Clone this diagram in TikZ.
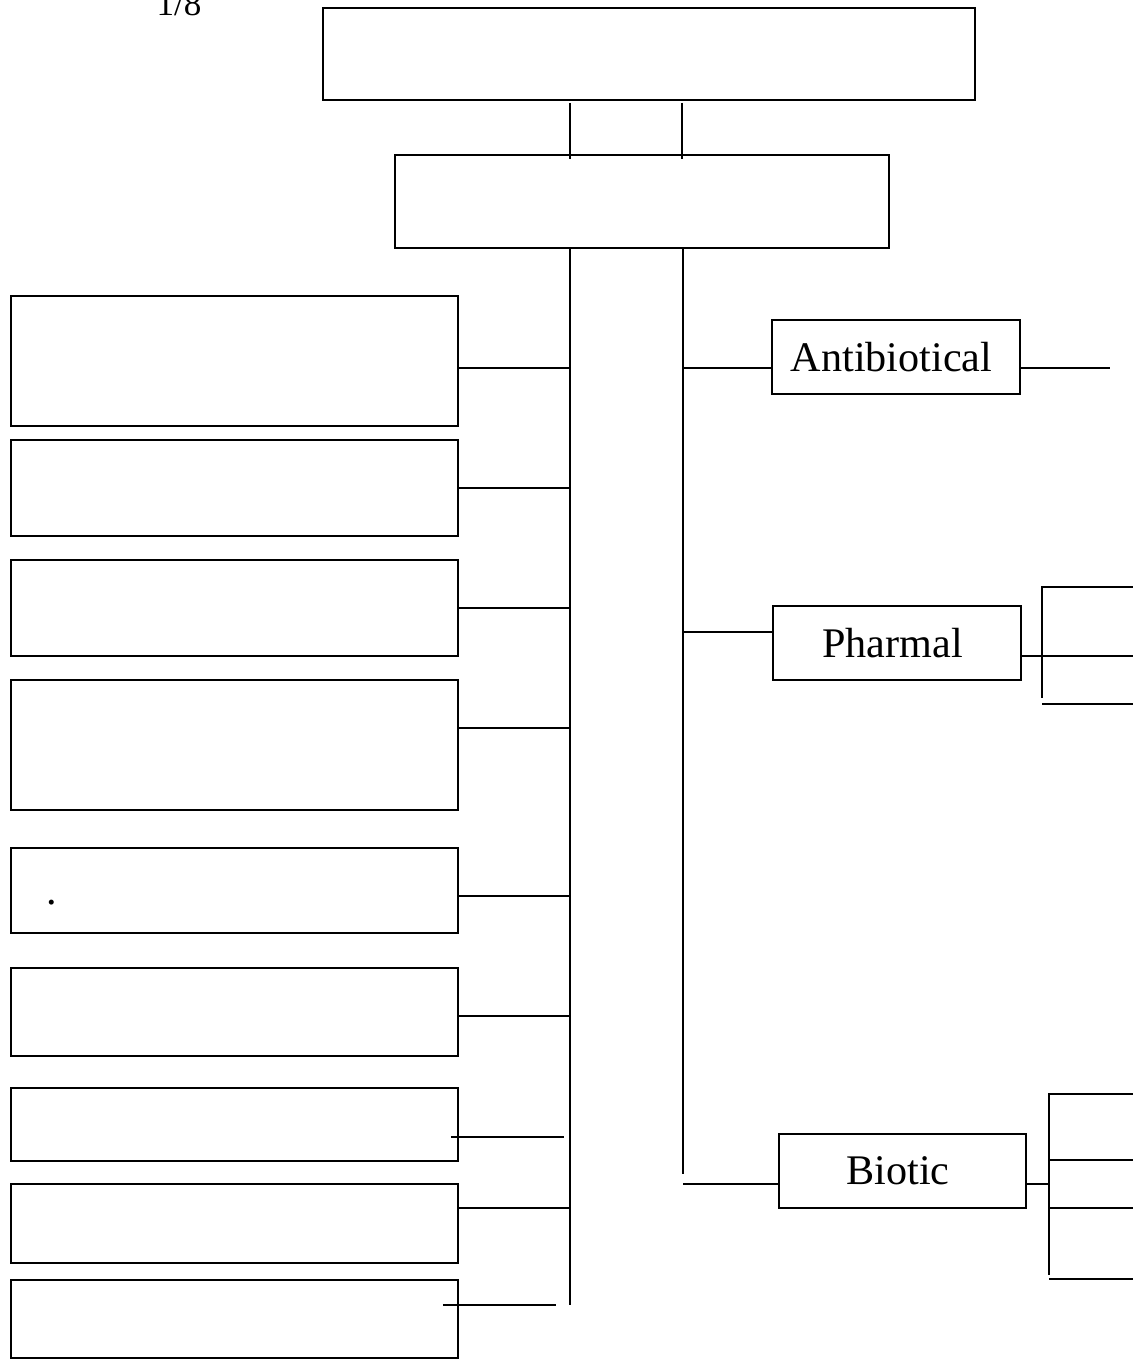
\documentclass[tikz,border=0pt]{standalone}
\usepackage{fontspec}
\setmainfont{Liberation Serif}
\usepackage{tikz}
\usetikzlibrary{calc}
\tikzset{
  box/.style={
    rectangle,
    draw=black,
    line width=1.1pt,
    inner sep=0pt,
    align=center,
    font=\fontsize{24}{28}\selectfont
  },
  leftbox/.style={box, minimum width=8.94cm},
  classbox/.style={box, minimum width=4.96cm, minimum height=1.48cm,
    execute at begin node={\hspace*{-0.18cm}}},
  link/.style={line width=1.1pt}
}

\begin{document}
\begin{tikzpicture}
  \useasboundingbox (0,0) rectangle (22.66,-27.18);
  \node[font=\fontsize{20}{24}\selectfont, anchor=base] (page) at (3.58,-0.30) {1/8};

  \node[box, minimum width=13.04cm, minimum height=1.84cm] (top) at (12.98,-1.08) {};
  \node[box, minimum width=9.88cm, minimum height=1.86cm] (sub) at (12.84,-4.03) {};

  % trunks
  \coordinate (ltop) at (11.40,-4.96);
  \coordinate (lend) at (11.40,-26.10);
  \coordinate (rtop) at (13.66,-4.96);
  \coordinate (rend) at (13.66,-23.48);
  \draw[link] ($(top.south -| ltop)+(0,-0.04)$) -- ($(sub.north -| ltop)+(0,-0.10)$);
  \draw[link] ($(top.south -| rtop)+(-0.02,-0.04)$) -- ($(sub.north -| rtop)+(-0.02,-0.10)$);
  \draw[link] (ltop) -- (lend);
  \draw[link] (rtop) -- (rend);

  % left column
  \node[leftbox, minimum height=2.60cm] (b1) at (4.69,-7.22) {};
  \node[leftbox, minimum height=1.92cm] (b2) at (4.69,-9.76) {};
  \node[leftbox, minimum height=1.92cm] (b3) at (4.69,-12.16) {};
  \node[leftbox, minimum height=2.60cm] (b4) at (4.69,-14.90) {};
  \node[leftbox, minimum height=1.70cm] (b5) at (4.69,-17.81) {};
  \node[font=\fontsize{24}{28}\selectfont, anchor=base, inner sep=0pt] (dot) at (1.04,-18.08) {.};
  \node[leftbox, minimum height=1.76cm] (b6) at (4.69,-20.24) {};
  \node[leftbox, minimum height=1.46cm] (b7) at (4.69,-22.49) {};
  \node[leftbox, minimum height=1.58cm] (b8) at (4.69,-24.47) {};
  \node[leftbox, minimum height=1.56cm] (b9) at (4.69,-26.38) {};

  \coordinate (j1) at (11.40,-7.36);
  \coordinate (j2) at (11.40,-9.76);
  \coordinate (j3) at (11.40,-12.16);
  \coordinate (j4) at (11.40,-14.56);
  \coordinate (j5) at (11.40,-17.92);
  \coordinate (j6) at (11.40,-20.32);
  \coordinate (j7) at (11.40,-22.74);
  \coordinate (j8) at (11.40,-24.16);
  \coordinate (j9) at (11.40,-26.10);
  \draw[link] (b1.east |- j1) -- (j1);
  \draw[link] (b2.east |- j2) -- (j2);
  \draw[link] (b3.east |- j3) -- (j3);
  \draw[link] (b4.east |- j4) -- (j4);
  \draw[link] (b5.east |- j5) -- (j5);
  \draw[link] (b6.east |- j6) -- (j6);
  \draw[link] ($(b7.east |- j7)+(-0.16,0)$) -- ($(j7)+(-0.12,0)$);
  \draw[link] (b8.east |- j8) -- (j8);
  \draw[link] ($(b9.east |- j9)+(-0.32,0)$) -- ($(j9)+(-0.28,0)$);

  % right column
  \node[classbox] (anti) at (17.92,-7.14) {Antibiotical};
  \node[classbox] (pharm) at (17.94,-12.86) {Pharmal};
  \node[classbox, minimum width=4.94cm] (bio) at (18.05,-23.42) {Biotic};

  \coordinate (k1) at (13.66,-7.36);
  \coordinate (k2) at (13.66,-12.64);
  \coordinate (k3) at (13.66,-23.68);
  \draw[link] (k1) -- (k1 -| anti.west);
  \draw[link] (k2) -- (k2 -| pharm.west);
  \draw[link] (k3) -- (k3 -| bio.west);

  \coordinate (a1) at (22.20,-7.36);
  \draw[link] (anti.east |- a1) -- (a1);

  \coordinate (p1) at (22.66,-11.74);
  \coordinate (p2) at (22.66,-13.12);
  \coordinate (pbot) at (20.84,-13.96);
  \coordinate (p3) at (20.84,-14.08);
  \coordinate (p3e) at (22.66,-14.08);
  \draw[link] (p1) -| (pbot);
  \draw[link] (pharm.east |- p2) -- (p2);
  \draw[link] (p3) -- (p3e);

  \coordinate (q0) at (20.98,-23.68);
  \coordinate (q1) at (22.66,-21.88);
  \coordinate (qbot) at (20.98,-25.50);
  \coordinate (q2) at (20.98,-23.20);
  \coordinate (q3) at (20.98,-24.16);
  \coordinate (q4) at (20.98,-25.58);
  \draw[link] (bio.east |- q0) -- (q0);
  \draw[link] (q1) -| (qbot);
  \draw[link] (q2) -- (q2 -| q1);
  \draw[link] (q3) -- (q3 -| q1);
  \draw[link] (q4) -- (q4 -| q1);
\end{tikzpicture}
\end{document}
